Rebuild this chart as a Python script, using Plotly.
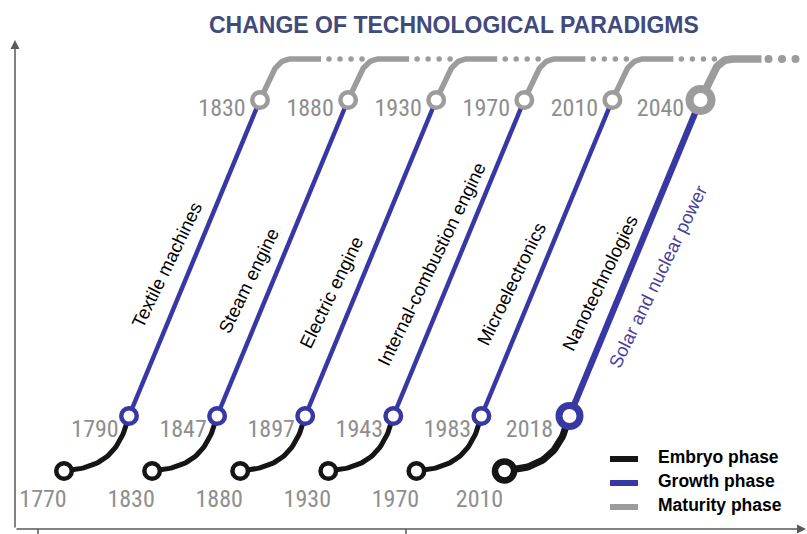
import numpy as np
import plotly.graph_objects as go

# ---------------- data ----------------
paradigms = ["Textile machines", "Steam engine", "Electric engine",
             "Internal-combustion engine", "Microelectronics", "Nanotechnologies"]
future_paradigm = "Solar and nuclear power"
embryo_years = [1770, 1830, 1880, 1930, 1970, 2010]
growth_years = [1790, 1847, 1897, 1943, 1983, 2018]
maturity_years = [1830, 1880, 1930, 1970, 2010, 2040]
phases = ["Embryo phase", "Growth phase", "Maturity phase"]
title = "CHANGE OF TECHNOLOGICAL PARADIGMS"

# ---------------- layout constants ----------------
W, H = 807, 534
X0, STEP = 64, 88.1          # x of first embryo node, spacing between waves
EMB_Y, GROW_DX, GROW_DY = 471, 65, -55
MAT_DX, MAT_Y, PLAT_DY = 196, 100, -41
LABEL_T = [0.48, 0.43, 0.39, 0.48, 0.42, 0.42]
SOLAR_T = 0.44

BLACK, BLUE, GRAY = "#151515", "#3838a4", "#9c9c9c"
YEAR_COLOR = "#8e8e8e"
YEAR_FONT = "Liberation Sans Narrow, Arial Narrow, Roboto Condensed, DejaVu Sans Condensed, sans-serif"
TEXT_FONT = "Liberation Sans, Arial, sans-serif"


def bezier(p0, p1, p2, p3, n=40):
    t = np.linspace(0, 1, n)[:, None]
    p0, p1, p2, p3 = map(np.array, (p0, p1, p2, p3))
    return (1 - t) ** 3 * p0 + 3 * (1 - t) ** 2 * t * p1 + 3 * (1 - t) * t ** 2 * p2 + t ** 3 * p3


fig = go.Figure()
circles = []
labels = []
annots = []

n = len(paradigms)
for i in range(n):
    last = i == n - 1
    s = 1.4 if last else 1.0
    ex, ey = X0 + STEP * i, EMB_Y
    gx, gy = ex + GROW_DX, ey + GROW_DY
    mx, my = ex + MAT_DX, MAT_Y

    # embryo curve
    c = bezier((ex, ey), (ex + 35, ey - 3), (ex + 55, ey - 15), (gx, gy))
    fig.add_trace(go.Scatter(x=c[:, 0], y=c[:, 1], mode="lines",
                             line=dict(color=BLACK, width=5 * s), hoverinfo="skip", showlegend=False))
    # growth line
    fig.add_trace(go.Scatter(x=[gx, mx], y=[gy, my], mode="lines",
                             line=dict(color=BLUE, width=4.5 * s), hoverinfo="skip", showlegend=False))
    # maturity curve + plateau
    c = bezier((mx, my), (mx + 13, my - 30), (mx + 17, my + PLAT_DY), (mx + 32, my + PLAT_DY))
    xs = list(c[:, 0]) + [mx + 61]
    ys = list(c[:, 1]) + [my + PLAT_DY]
    fig.add_trace(go.Scatter(x=xs, y=ys, mode="lines",
                             line=dict(color=GRAY, width=5.5 * s), hoverinfo="skip", showlegend=False))
    # dotted continuation
    if last:
        dx = [mx + 68 + 13.5 * k for k in range(3)]
        dsz = 8
    else:
        dx = [mx + 69 + 11 * k for k in range(4)]
        dsz = 5.5
    fig.add_trace(go.Scatter(x=dx, y=[my + PLAT_DY] * len(dx), mode="markers",
                             marker=dict(color=GRAY, size=dsz), hoverinfo="skip", showlegend=False))

    # year labels
    labels.append((ex - (25 if last else 21), ey + 30, str(embryo_years[i])))
    labels.append((gx - (40 if last else 34), gy + 15, str(growth_years[i])))
    labels.append((mx - (40 if last else 38), my + 10, str(maturity_years[i])))

    # circles
    if last:
        circles += [(ex, ey, BLACK, 19, 6.5), (gx, gy, BLUE, 21, 7), (mx, my, GRAY, 22, 8)]
    else:
        circles += [(ex, ey, BLACK, 15.5, 4.5), (gx, gy, BLUE, 15.5, 4.5), (mx, my, GRAY, 15.5, 4.5)]

    # rotated paradigm label, left of growth line
    t = LABEL_T[i]
    lx = gx + t * (mx - gx) - 25
    ly = gy + t * (my - gy)
    annots.append(dict(x=lx, y=ly, text=paradigms[i], textangle=-64, showarrow=False,
                       xanchor="center", yanchor="middle",
                       font=dict(family=TEXT_FONT, size=18.5, color="#000000")))
    if last:
        lx = gx + SOLAR_T * (mx - gx) + 31
        ly = gy + SOLAR_T * (my - gy)
        annots.append(dict(x=lx, y=ly, text=future_paradigm, textangle=-64, showarrow=False,
                           xanchor="center", yanchor="middle",
                           font=dict(family=TEXT_FONT, size=18.5, color="#4a3f9c")))

# year label text
fig.add_trace(go.Scatter(x=[l[0] for l in labels], y=[l[1] for l in labels],
                         text=[l[2] for l in labels], mode="text", textposition="middle center",
                         textfont=dict(family=YEAR_FONT, size=24, color=YEAR_COLOR),
                         hoverinfo="skip", showlegend=False))

# circles (on top)
for (cx, cy, col, sz, lw) in circles:
    fig.add_trace(go.Scatter(x=[cx], y=[cy], mode="markers",
                             marker=dict(size=sz, color="white", line=dict(color=col, width=lw)),
                             hoverinfo="skip", showlegend=False))

# legend (manual)
for k, (name, col) in enumerate(zip(phases, [BLACK, BLUE, GRAY])):
    yy = 459 + 24 * k
    fig.add_trace(go.Scatter(x=[610, 638], y=[yy, yy], mode="lines",
                             line=dict(color=col, width=6), hoverinfo="skip", showlegend=False))
    annots.append(dict(x=656, y=yy - 2, text=name, showarrow=False, xanchor="left", yanchor="middle",
                       font=dict(family=TEXT_FONT, size=17.5, color="#000000", weight="bold")))

# title
annots.append(dict(x=454, y=25, text=title, showarrow=False, xanchor="center", yanchor="middle",
                   font=dict(family=TEXT_FONT, size=23, color="#3e4b7b", weight="bold")))

# axes with arrows
AX_COL = "#5a5a5a"
annots.append(dict(x=15, y=40, ax=15, ay=529, xref="x", yref="y", axref="x", ayref="y",
                   showarrow=True, arrowhead=2, arrowsize=1.2, arrowwidth=1.5, arrowcolor=AX_COL, text=""))
annots.append(dict(x=806, y=529, ax=15, ay=529, xref="x", yref="y", axref="x", ayref="y",
                   showarrow=True, arrowhead=2, arrowsize=1.2, arrowwidth=1.5, arrowcolor=AX_COL, text=""))

shapes = [dict(type="line", x0=38, x1=38, y0=529, y1=534, line=dict(color=AX_COL, width=1.5)),
          dict(type="line", x0=406, x1=406, y0=529, y1=534, line=dict(color=AX_COL, width=1.5))]

fig.update_layout(
    width=W, height=H, margin=dict(l=0, r=0, t=0, b=0),
    paper_bgcolor="white", plot_bgcolor="white",
    xaxis=dict(range=[0, W], visible=False, fixedrange=True),
    yaxis=dict(range=[H, 0], visible=False, fixedrange=True),
    annotations=annots, shapes=shapes, showlegend=False,
)

fig.write_html("out.html", config={"displayModeBar": False},
               post_script="document.body.style.margin='0';document.body.style.overflow='hidden';")
